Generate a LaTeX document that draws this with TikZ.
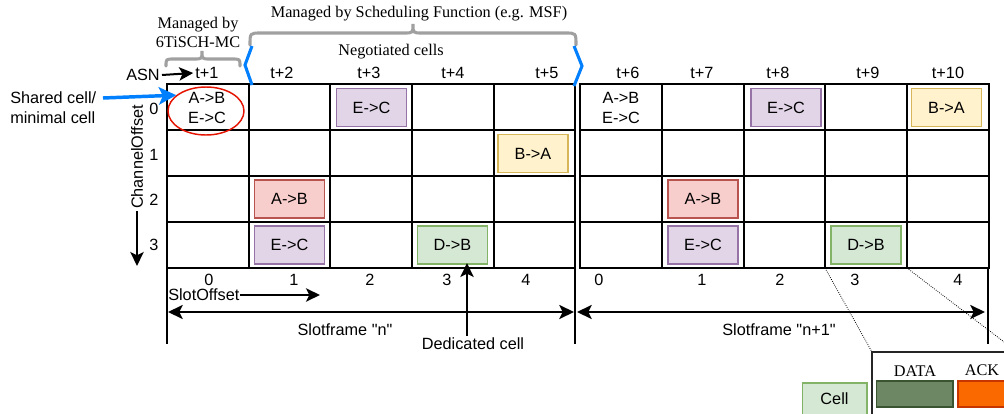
\documentclass[tikz,border=0pt]{standalone}
\usepackage{fontspec}
\setmainfont{Liberation Serif}
\setsansfont{Liberation Sans}
\newfontfamily\plainsans{Liberation Sans}
\usetikzlibrary{arrows.meta,shapes.geometric}
\definecolor{purpfill}{HTML}{E1D5E7}\definecolor{purpline}{HTML}{9673A6}
\definecolor{yelfill}{HTML}{FFF2CC}\definecolor{yelline}{HTML}{D6B656}
\definecolor{redfill}{HTML}{F8CECC}\definecolor{redline}{HTML}{B85450}
\definecolor{grnfill}{HTML}{D5E8D4}\definecolor{grnline}{HTML}{82B366}
\definecolor{datafill}{HTML}{6D8764}\definecolor{dataline}{HTML}{3A5431}
\definecolor{ackfill}{HTML}{FA6800}\definecolor{ackline}{HTML}{C73500}
\definecolor{bracegray}{HTML}{A0A0A0}\definecolor{bblue}{HTML}{007FFF}
\definecolor{ellred}{HTML}{E51400}
\begin{document}
\begin{tikzpicture}[x=0.75pt,y=-0.75pt,
  font=\sffamily\fontsize{12.2}{15}\selectfont,
  gridline/.style={line width=1.1pt,draw=black},
  cellbox/.style={draw,line width=1pt,minimum width=52.5pt,minimum height=28.5pt,inner sep=0pt},
  purp/.style={cellbox,fill=purpfill,draw=purpline},
  yel/.style={cellbox,fill=yelfill,draw=yelline},
  redb/.style={cellbox,fill=redfill,draw=redline},
  grn/.style={cellbox,fill=grnfill,draw=grnline},
  lbl/.style={inner sep=1.5pt},
  serif/.style={font=\rmfamily\fontsize{12.2}{14.25}\selectfont},
  brace/.style={draw=bracegray,line width=2.3pt,line cap=round},
  bluebr/.style={draw=bblue,line width=2.3pt},
  blk/.style={draw=black,line width=1.5pt,-{Stealth[length=10.5pt,width=10pt,inset=2.5pt]}},
  blk2/.style={draw=black,line width=1.5pt,{Stealth[length=11pt,width=10.5pt,inset=2.5pt]}-{Stealth[length=11pt,width=10.5pt,inset=2.5pt]}},
  dots/.style={draw=black,line width=0.6pt,densely dotted}
]
\clip (0,0) rectangle (1004,414);
\fill[white] (0,0) rectangle (1004,414);

% ---- grids ----
\draw[gridline] (167,84) rectangle (575,268);
\foreach \x in {249,330,412,494} \draw[gridline] (\x,84) -- (\x,268);
\foreach \y in {130,176,222} \draw[gridline] (167,\y) -- (575,\y);
\draw[gridline] (580,84) rectangle (989,268);
\foreach \x in {662,744,825,907} \draw[gridline] (\x,84) -- (\x,268);
\foreach \y in {130,176,222} \draw[gridline] (580,\y) -- (989,\y);
\draw[gridline] (167,268) -- (167,344);
\draw[gridline] (575,268) -- (575,344);
\draw[gridline] (988,268) -- (988,344);

% ---- cells ----
\node[align=center,lbl] (a0) at (207,108) {A->B\\E->C};
\node[purp] (a2) at (371.5,107.5) {E->C};
\node[yel] (a4) at (533,153.5) {B->A};
\node[redb] (a1r) at (289.5,199) {A->B};
\node[purp] (a1p) at (289.5,245) {E->C};
\node[grn] (a3) at (452.5,245) {D->B};

\node[align=center,lbl] (b0) at (621,108) {A->B\\E->C};
\node[purp] (b2) at (786,107.5) {E->C};
\node[yel] (b4) at (946.5,107.5) {B->A};
\node[redb] (b1r) at (703,199) {A->B};
\node[purp] (b1p) at (703,245) {E->C};
\node[grn] (b3) at (866,245) {D->B};

\node[ellipse,draw=ellred,line width=1.1pt,minimum width=57pt,minimum height=36pt,inner sep=0pt] (ell) at (206,111) {};

% ---- top labels ----
\foreach \n/\x/\t in {t1/207/t+1,t2/282/t+2,t3/369/t+3,t4/453/t+4,t5/547/t+5,t6/628/t+6,t7/702/t+7,t8/778/t+8,t9/868/t+9,t10/948/t+10}
  \node[lbl] (\n) at (\x,73) {\t};
\node[lbl] (asn) at (143,75) {ASN};
\draw[blk] (asn.east) -- (t1.west);

% ---- channel offsets ----
\foreach \n/\y/\t in {c0/109/0,c1/155/1,c2/200/2,c3/245/3}
  \node[lbl] (\n) at (154,\y) {\t};
\node[lbl,rotate=90] (co) at (137,157) {ChannelOffset};
\coordinate (cotip) at (137,266);
\draw[blk] (co.west) -- (cotip);

% ---- slot offsets ----
\foreach \n/\x/\t in {s0/209/0,s1/294/1,s2/370/2,s3/447/3,s4/526/4,r0/599/0,r1/702/1,r2/780/2,r3/855/3,r4/958/4}
  \node[lbl] (\n) at (\x,280) {\t};
\node[anchor=west,inner sep=0pt] (so) at (168,295) {SlotOffset};
\coordinate (sotip) at (320,295);
\draw[blk] (so.east) -- (sotip);

% ---- slotframes ----
\coordinate (f1l) at (168,312);
\coordinate (f1r) at (574,312);
\coordinate (f2l) at (577,312);
\coordinate (f2r) at (985,312);
\draw[blk2] (f1l) -- (f1r);
\draw[blk2] (f2l) -- (f2r);
\node[lbl,font=\plainsans\fontsize{12.2}{15}\selectfont] (sfn) at (345,330) {Slotframe "n"};
\node[lbl,font=\plainsans\fontsize{12.2}{15}\selectfont] (sfn1) at (779,330) {Slotframe "n+1"};

% ---- dedicated cell ----
\node[lbl] (dc) at (473,344) {Dedicated cell};
\coordinate (dctip) at (467,263);
\draw[blk] (dc.north -| dctip) -- (dctip);

% ---- shared cell ----
\node[anchor=west,align=left,inner sep=0pt] (sc) at (10,108) {Shared cell/\\minimal cell};
\coordinate (scstart) at (103,98);
\draw[draw=bblue,line width=2.6pt,-{Stealth[length=13pt,width=13pt,inset=3pt]}] (scstart) -- (ell.152);

% ---- braces ----
\node[serif,align=center,inner sep=0pt] (mc) at (198,32) {Managed by\\6TiSCH-MC};
\draw[brace] (166,66) .. controls (166,59) .. (174,59) -- (194,59) .. controls (202,59) .. (202,51)
  .. controls (202,59) .. (210,59) -- (232,59) .. controls (240,59) .. (240,66);
\node[serif,inner sep=0pt] (msf) at (419,14) {Managed by Scheduling Function (e.g. MSF)};
\draw[brace] (250,45) .. controls (250,33) .. (261,33) -- (404,33) .. controls (413,33) .. (413,24)
  .. controls (413,33) .. (422,33) -- (565,33) .. controls (576,33) .. (576,45);
\node[serif,inner sep=0pt] (neg) at (391,52) {Negotiated cells};
\draw[bluebr] (252,46) -- (245,65) -- (252,85);
\draw[bluebr] (574,46) -- (582,66) -- (574,86);

% ---- zoomed cell inset ----
\draw[dots] (825,268) -- (872,352);
\draw[dots] (907,268) -- (1012,348);
\draw[line width=1.2pt,draw=black!85] (1010,352) -- (872,352) -- (872,420);
\node[serif,inner sep=0pt] (data) at (915,371) {DATA};
\node[serif,inner sep=0pt] (ack) at (982,370) {ACK};
\node[draw=dataline,fill=datafill,line width=1pt,minimum width=57.5pt,minimum height=19.5pt,inner sep=0pt] (datab) at (914.5,394) {};
\node[draw=ackline,fill=ackfill,line width=1pt,minimum width=45pt,minimum height=19.5pt,inner sep=0pt] (ackb) at (988,394) {};
\node[draw=grnline,fill=grnfill,line width=1pt,minimum width=48.5pt,minimum height=24pt,inner sep=0pt] (cellb) at (834.5,399) {Cell};
\end{tikzpicture}
\end{document}
